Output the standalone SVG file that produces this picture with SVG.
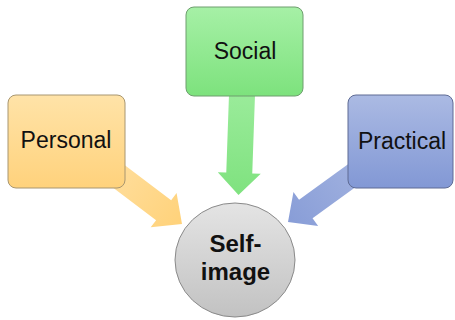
<svg xmlns="http://www.w3.org/2000/svg" width="455" height="320" viewBox="0 0 455 320">
  <style>
    .box { stroke-width: 1; }
    .label { font-family: "Liberation Sans", Arial, sans-serif; font-size: 23px; fill: #111; text-anchor: middle; }
    .hub { font-family: "Liberation Sans", Arial, sans-serif; font-size: 24px; font-weight: bold; fill: #111; text-anchor: middle; }
  </style>
  <defs>
    <linearGradient id="gOrange" x1="0" y1="0" x2="0" y2="1">
      <stop offset="0" stop-color="#FFE3A8"/>
      <stop offset="1" stop-color="#FFD27C"/>
    </linearGradient>
    <linearGradient id="gGreen" x1="0" y1="0" x2="0" y2="1">
      <stop offset="0" stop-color="#A6F0A6"/>
      <stop offset="1" stop-color="#7DE27D"/>
    </linearGradient>
    <linearGradient id="gBlue" x1="0" y1="0" x2="0" y2="1">
      <stop offset="0" stop-color="#ABBAE3"/>
      <stop offset="1" stop-color="#8298D5"/>
    </linearGradient>
    <linearGradient id="gGray" x1="0" y1="0" x2="0" y2="1">
      <stop offset="0" stop-color="#E4E4E4"/>
      <stop offset="1" stop-color="#C2C2C2"/>
    </linearGradient>
    <!-- arrow fills run from tail (left) to tip (right) in local coordinates -->
    <linearGradient id="aOrange" x1="0" y1="0" x2="1" y2="0">
      <stop offset="0" stop-color="#FFDFA0"/>
      <stop offset="1" stop-color="#FFD27A"/>
    </linearGradient>
    <linearGradient id="aGreen" x1="0" y1="0" x2="1" y2="0">
      <stop offset="0" stop-color="#A2EEA2"/>
      <stop offset="1" stop-color="#7FE27F"/>
    </linearGradient>
    <linearGradient id="aBlue" x1="0" y1="0" x2="1" y2="0">
      <stop offset="0" stop-color="#A3B3E0"/>
      <stop offset="1" stop-color="#889DD7"/>
    </linearGradient>
  </defs>

  <rect width="455" height="320" fill="#FFFFFF"/>

  <!-- block arrows: tip at origin, pointing along +x, then placed -->
  <g id="connectors">
    <path transform="translate(182,224) rotate(37)" fill="url(#aOrange)"
          d="M0,0 L-23,-21.5 L-23,-12.5 L-100,-12.5 L-100,12.5 L-23,12.5 L-23,21.5 Z"/>
    <path transform="translate(238.5,195) rotate(92)" fill="url(#aGreen)"
          d="M0,0 L-22,-21.5 L-22,-13 L-130,-13 L-130,13 L-22,13 L-22,21.5 Z"/>
    <path transform="translate(288,222) rotate(144)" fill="url(#aBlue)"
          d="M0,0 L-22,-21 L-22,-11.5 L-100,-11.5 L-100,11.5 L-22,11.5 L-22,21 Z"/>
  </g>

  <g id="personal">
    <rect class="box" x="8" y="95" width="117" height="93" rx="8" fill="url(#gOrange)" stroke="#A89670"/>
    <text class="label" x="66" y="148">Personal</text>
  </g>

  <g id="social">
    <rect class="box" x="186" y="7" width="117" height="89" rx="8" fill="url(#gGreen)" stroke="#6E9E6E"/>
    <text class="label" x="245" y="59">Social</text>
  </g>

  <g id="practical">
    <rect class="box" x="348" y="95" width="105" height="93" rx="8" fill="url(#gBlue)" stroke="#5E6B94"/>
    <text class="label" x="402" y="149">Practical</text>
  </g>

  <g id="self-image">
    <ellipse cx="235" cy="260" rx="60" ry="57" fill="url(#gGray)" stroke="#8A8A8A" stroke-width="1"/>
    <text class="hub" x="235.5" y="252">Self-</text>
    <text class="hub" x="235.5" y="280">image</text>
  </g>
</svg>
